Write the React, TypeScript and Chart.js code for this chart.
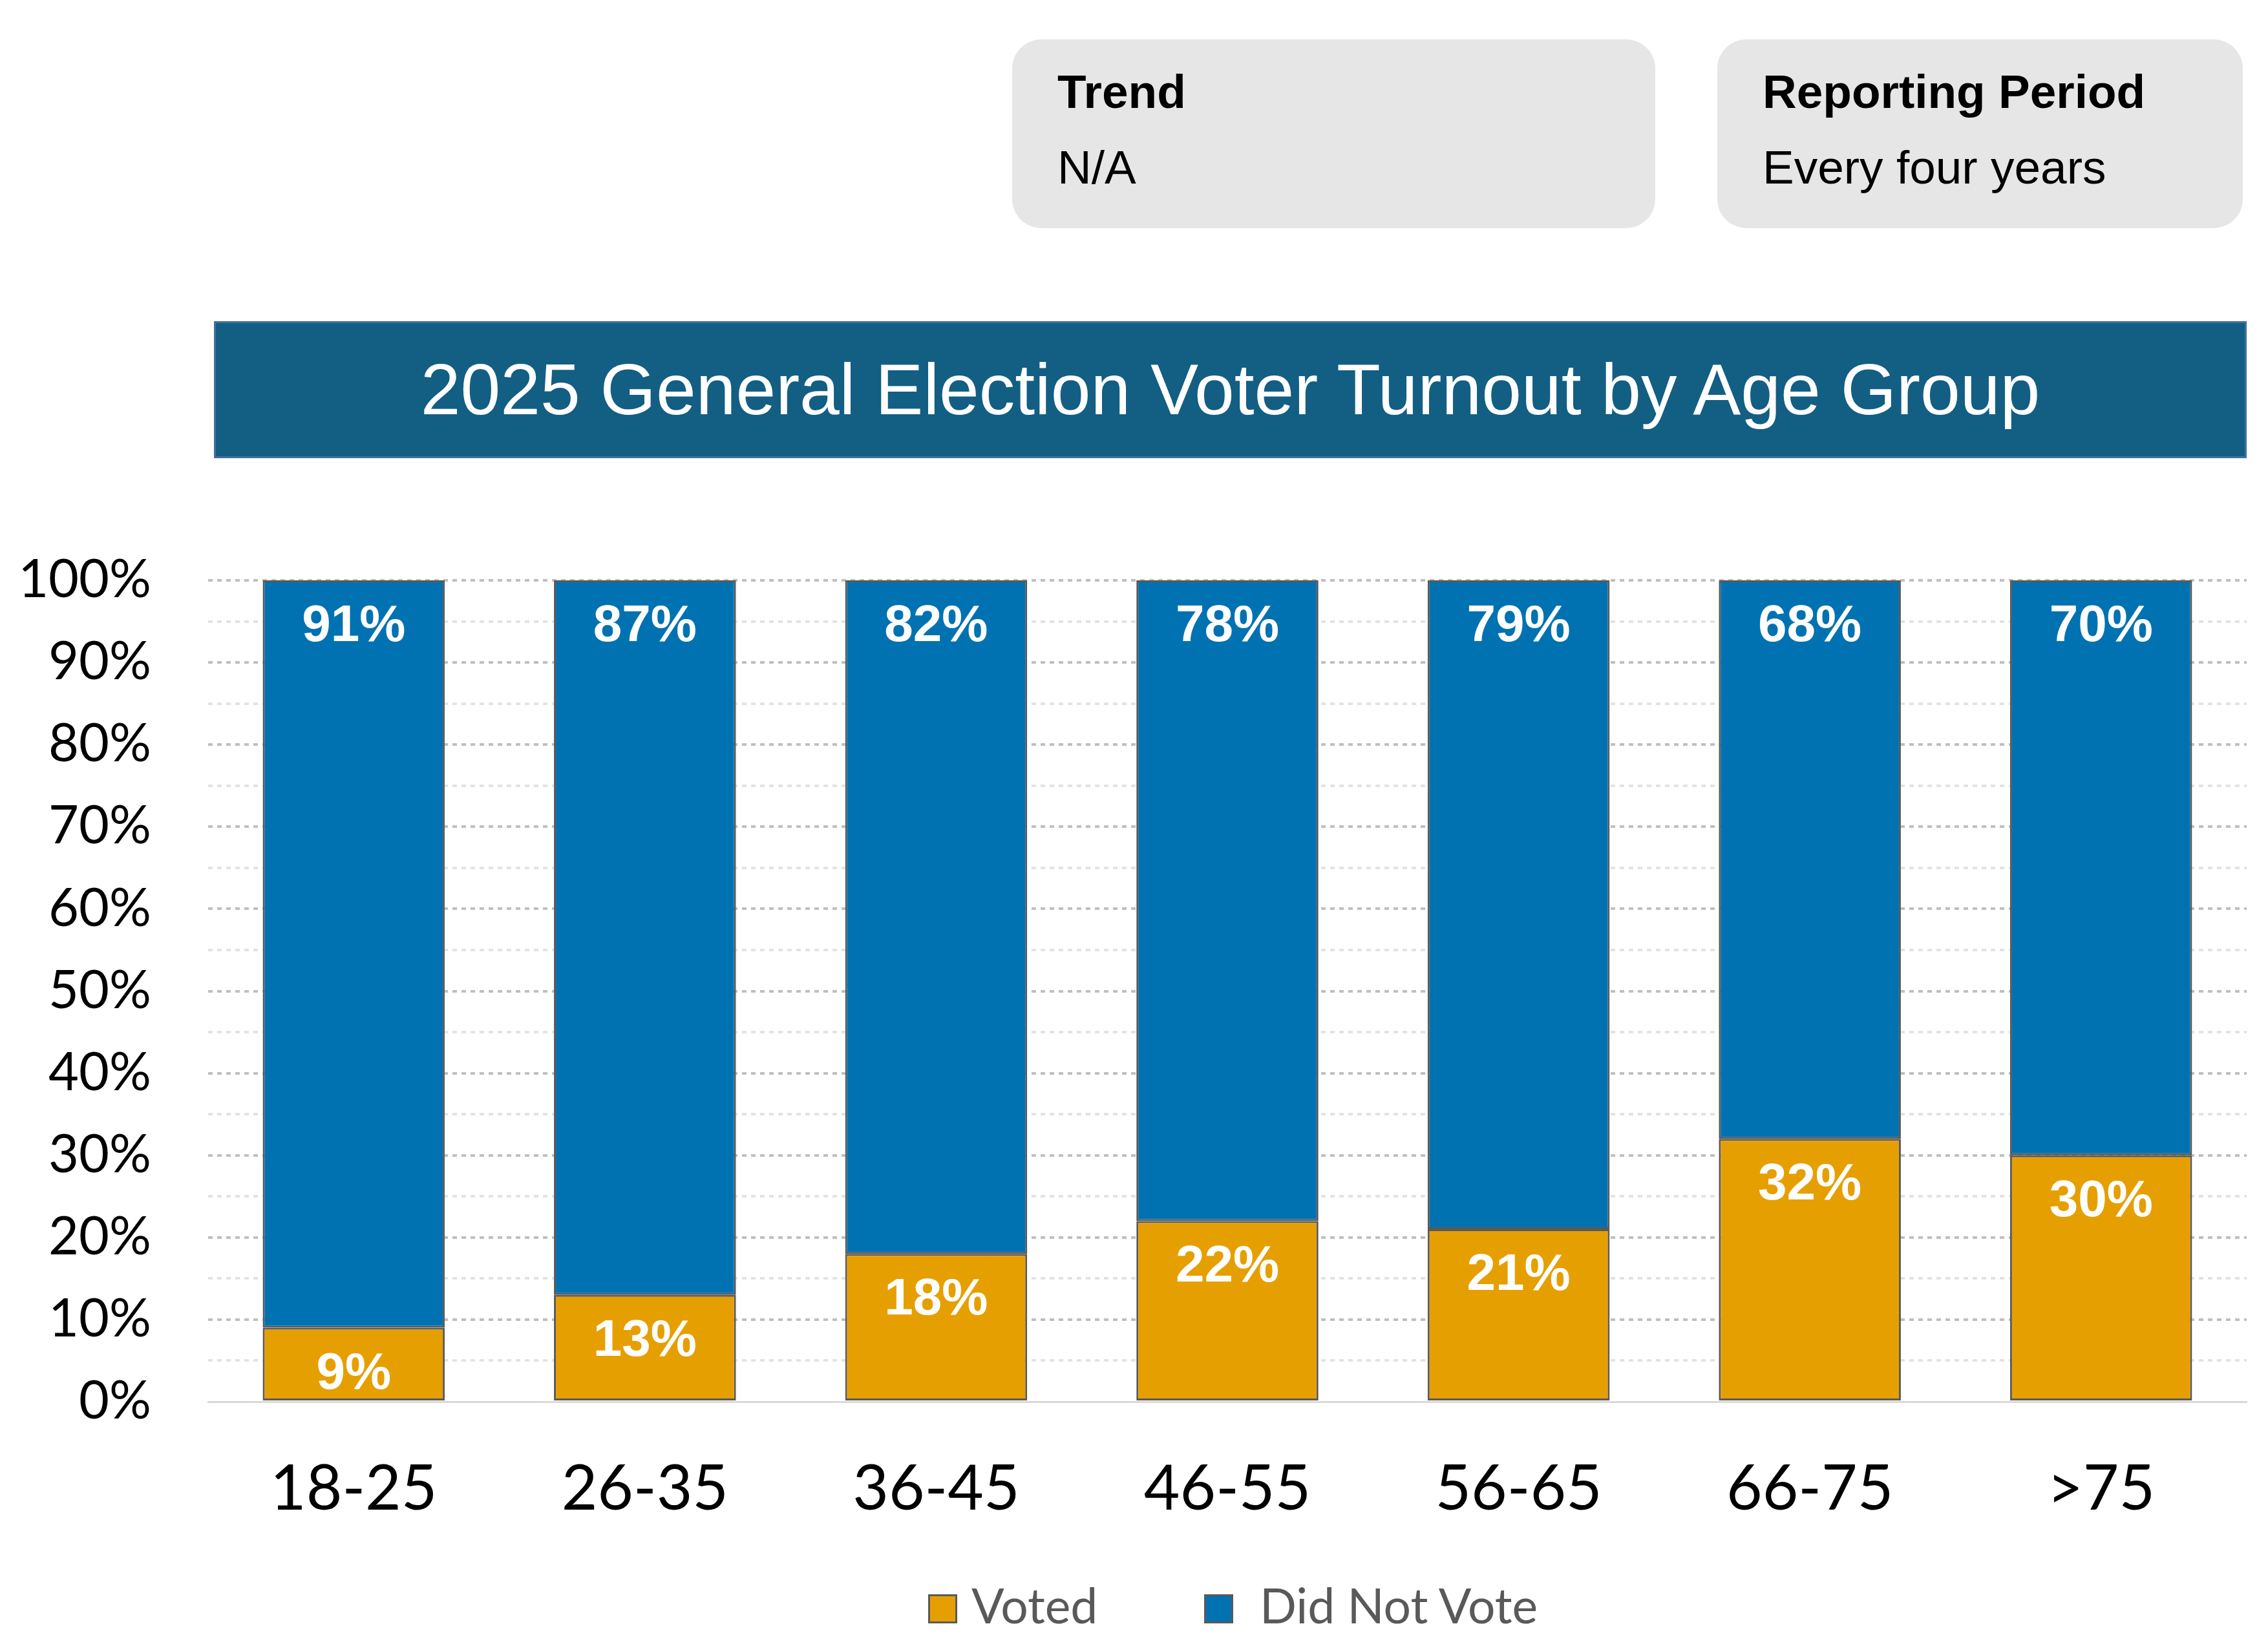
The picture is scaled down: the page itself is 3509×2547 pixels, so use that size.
import { useEffect, useRef } from "react"
import { Chart, registerables } from "chart.js"

Chart.register(...registerables)

const categories = ["18-25", "26-35", "36-45", "46-55", "56-65", "66-75", ">75"]
const votedValues = [9, 13, 18, 22, 21, 32, 30]
const didNotVoteValues = [91, 87, 82, 78, 79, 68, 70]
const seriesLabels = ["Voted", "Did Not Vote"]
const seriesColors = ["#E69F00", "#0072B2"]

const chartTitle = "2025 General Election Voter Turnout by Age Group"
const infoCards = [
  { heading: "Trend", text: "N/A" },
  { heading: "Reporting Period", text: "Every four years" },
]

// draws the white % labels just under the top of every bar segment
const barLabels = {
  id: "barLabels",
  afterDatasetsDraw(chart: Chart) {
    const ctx = chart.ctx
    ctx.save()
    ctx.fillStyle = "#ffffff"
    ctx.font = "bold 80px 'Liberation Sans', Arial, sans-serif"
    ctx.textAlign = "center"
    ctx.textBaseline = "middle"
    chart.data.datasets.forEach((ds, di) => {
      const meta = chart.getDatasetMeta(di)
      meta.data.forEach((bar: any, i) => {
        const v = ds.data[i] as number
        ctx.fillText(v + "%", bar.x, bar.y + 72)
      })
    })
    ctx.restore()
  },
}

function TurnoutChart() {
  const chartRef = useRef<HTMLCanvasElement>(null)
  const chartInstance = useRef<Chart | null>(null)

  useEffect(() => {
    if (!chartRef.current) return
    if (chartInstance.current) chartInstance.current.destroy()
    const ctx = chartRef.current.getContext("2d")
    if (!ctx) return

    chartInstance.current = new Chart(ctx, {
      type: "bar",
      data: {
        labels: categories,
        datasets: [
          {
            label: seriesLabels[0],
            data: votedValues,
            backgroundColor: seriesColors[0],
            borderColor: "#595959",
            borderWidth: 3,
            borderSkipped: false,
            categoryPercentage: 1,
            barPercentage: 0.625,
          },
          {
            label: seriesLabels[1],
            data: didNotVoteValues,
            backgroundColor: seriesColors[1],
            borderColor: "#595959",
            borderWidth: 3,
            borderSkipped: false,
            categoryPercentage: 1,
            barPercentage: 0.625,
          },
        ],
      },
      options: {
        animation: false,
        responsive: true,
        maintainAspectRatio: false,
        layout: { padding: { top: 98, left: 0, right: 33, bottom: 0 } },
        plugins: {
          legend: { display: false },
          tooltip: { enabled: false },
        },
        scales: {
          x: {
            stacked: true,
            grid: { display: false },
            border: { display: true, color: "#D9D9D9", width: 3 },
            ticks: {
              color: "#000000",
              padding: 70,
              font: { family: "Lato, 'Open Sans', sans-serif", size: 96 },
            },
            afterFit: (scale) => {
              scale.height = 231
            },
          },
          y: {
            stacked: true,
            min: 0,
            max: 100,
            border: { display: false, dash: [7, 7] },
            grid: {
              drawTicks: false,
              lineWidth: 4,
              color: (c) => {
                const v = c.tick?.value ?? 0
                if (v === 0) return "rgba(0,0,0,0)"
                return v % 10 === 0 ? "#BFBFBF" : "#E3E3E3"
              },
            },
            ticks: {
              stepSize: 5,
              autoSkip: false,
              padding: 88,
              color: "#000000",
              font: { family: "Lato, 'Open Sans', sans-serif", size: 81 },
              callback: (value) => ((value as number) % 10 === 0 ? value + "%" : ""),
            },
            afterFit: (scale) => {
              scale.width = 322
              // tick padding would otherwise push the plot down
              scale.paddingTop = 0
              scale.paddingBottom = 0
            },
          },
        },
      },
      plugins: [barLabels],
    })

    return () => {
      if (chartInstance.current) {
        chartInstance.current.destroy()
        chartInstance.current = null
      }
    }
  }, [])

  return <canvas ref={chartRef} />
}

export default function App() {
  const cardStyle = (left: number, width: number): React.CSSProperties => ({
    position: "absolute",
    left,
    top: 61,
    width,
    height: 292,
    background: "#E6E6E6",
    borderRadius: 45,
    fontFamily: "'Liberation Sans', Arial, sans-serif",
    color: "#000000",
  })

  return (
    <div
      style={{
        position: "absolute",
        left: 0,
        top: 0,
        width: 3509,
        height: 2547,
        overflow: "hidden",
        background: "#ffffff",
      }}
    >
      {infoCards.map((card, i) => (
        <div key={card.heading} style={cardStyle(i === 0 ? 1566 : 2657, i === 0 ? 995 : 813)}>
          <div style={{ position: "absolute", left: 70, top: 41, fontSize: 73, fontWeight: "bold", lineHeight: "80px", whiteSpace: "nowrap" }}>
            {card.heading}
          </div>
          <div style={{ position: "absolute", left: 70, top: 158, fontSize: 73, lineHeight: "80px", whiteSpace: "nowrap" }}>
            {card.text}
          </div>
        </div>
      ))}

      <div
        style={{
          position: "absolute",
          left: 331,
          top: 497,
          width: 3145,
          height: 212,
          boxSizing: "border-box",
          background: "#135E83",
          border: "3px solid #41709B",
          color: "#ffffff",
          fontFamily: "'Liberation Sans', Arial, sans-serif",
          fontSize: 111,
          display: "flex",
          alignItems: "center",
          justifyContent: "center",
        }}
      >
        {chartTitle}
      </div>

      <div style={{ position: "absolute", left: 0, top: 800, width: 3509, height: 1600 }}>
        <TurnoutChart />
      </div>

      {seriesLabels.map((label, i) => (
        <div key={label}>
          <div
            style={{
              position: "absolute",
              left: i === 0 ? 1436 : 1863,
              top: 2467,
              width: 45,
              height: 45,
              boxSizing: "border-box",
              background: seriesColors[i],
              border: "3px solid #595959",
            }}
          />
          <div
            style={{
              position: "absolute",
              left: i === 0 ? 1503 : 1949,
              top: 2438,
              lineHeight: "90px",
              fontSize: 75,
              fontFamily: "Lato, 'Open Sans', sans-serif",
              color: "#595959",
              whiteSpace: "nowrap",
            }}
          >
            {label}
          </div>
        </div>
      ))}
    </div>
  )
}
